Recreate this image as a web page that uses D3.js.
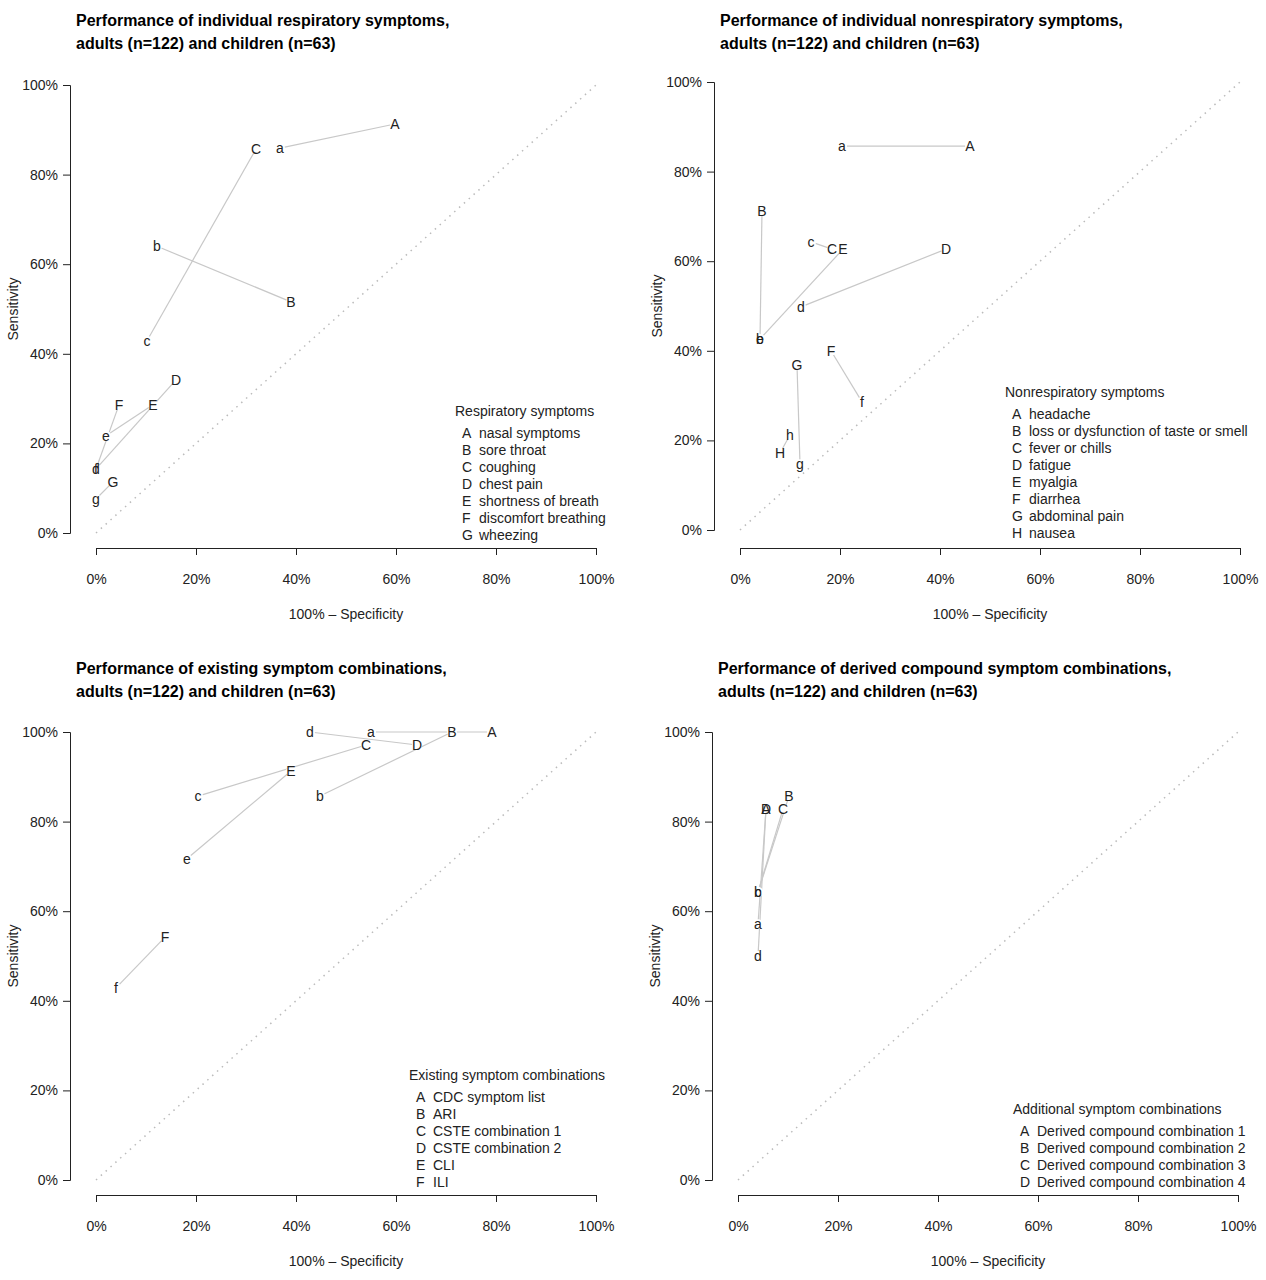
<!DOCTYPE html>
<html><head><meta charset="utf-8">
<script src="https://cdn.jsdelivr.net/npm/d3@7"></script>
<style>body{margin:0;background:#fff}text{font-family:"Liberation Sans",Arial,sans-serif}</style>
</head><body>
<script>
// [label, 100%-specificity, sensitivity]
var respAdults = [["A",59.8,91.3],["B",39,51.6],["C",32,85.7],["D",16,34.2],["E",11.4,28.6],["F",4.6,28.6],["G",3.4,11.4]];
var respKids = [["a",36.8,85.9],["b",12.2,64],["c",10.2,42.9],["d",0,14.3],["e",2,21.7],["f",0,14.3],["g",0,7.6]];
var respNames = ["nasal symptoms","sore throat","coughing","chest pain","shortness of breath","discomfort breathing","wheezing"];

var nonAdults = [["A",46,85.7],["B",4.4,71.2],["C",18.4,62.7],["D",41.2,62.7],["E",20.6,62.7],["F",18.2,40],["G",11.4,36.8],["H",8,17.2]];
var nonKids = [["a",20.4,85.7],["b",4,42.6],["c",14.2,64.3],["d",12.2,49.8],["e",4,42.6],["f",24.4,28.6],["g",12,14.7],["h",10,21.2]];
var nonNames = ["headache","loss or dysfunction of taste or smell","fever or chills","fatigue","myalgia","diarrhea","abdominal  pain","nausea"];

var exAdults = [["A",79.2,100],["B",71.2,100],["C",54,97.1],["D",64.2,97.1],["E",39,91.3],["F",13.8,54.2]];
var exKids = [["a",55,100],["b",44.8,85.7],["c",20.4,85.7],["d",42.8,100],["e",18.2,71.7],["f",4,42.9]];
var exNames = ["CDC symptom list","ARI","CSTE combination 1","CSTE combination 2","CLI","ILI"];

var dcAdults = [["A",5.6,82.8],["B",10.2,85.7],["C",9,82.8],["D",5.6,82.8]];
var dcKids = [["a",4,57.1],["b",4,64.3],["c",4,64.3],["d",4,50]];
var dcNames = ["Derived compound combination 1","Derived compound combination 2","Derived compound combination 3","Derived compound combination 4"];

var ticks = [0,20,40,60,80,100];

var panels = [
  {x0:96,top:85,bot:533,yax:70,xax:548,tx:76,ty:20,title:"Performance of individual respiratory symptoms,",ad:respAdults,kd:respKids,names:respNames,lt:"Respiratory symptoms",lx:455,ly:411},
  {x0:740,top:82,bot:530,yax:714,xax:548,tx:720,ty:20,title:"Performance of individual nonrespiratory symptoms,",ad:nonAdults,kd:nonKids,names:nonNames,lt:"Nonrespiratory symptoms",lx:1005,ly:392},
  {x0:96,top:732,bot:1180,yax:70,xax:1195,tx:76,ty:668,title:"Performance of existing symptom combinations,",ad:exAdults,kd:exKids,names:exNames,lt:"Existing symptom combinations",lx:409,ly:1075},
  {x0:738,top:732,bot:1180,yax:712,xax:1195,tx:718,ty:668,title:"Performance of derived compound symptom combinations,",ad:dcAdults,kd:dcKids,names:dcNames,lt:"Additional symptom combinations",lx:1013,ly:1109}
];

var svg = d3.select("body").append("svg").attr("width",1266).attr("height",1280);

panels.forEach(function(p){
  var g = svg.append("g");
  var x = d3.scaleLinear().domain([0,100]).range([p.x0,p.x0+500]);
  var y = d3.scaleLinear().domain([0,100]).range([p.bot,p.top]);

  g.append("text").attr("x",p.tx).attr("y",p.ty+6).attr("font-size",16).attr("font-weight","bold").text(p.title);
  g.append("text").attr("x",p.tx).attr("y",p.ty+29).attr("font-size",16).attr("font-weight","bold").text("adults (n=122) and children (n=63)");

  var xa = g.append("g").attr("transform","translate(0,"+p.xax+")")
    .call(d3.axisBottom(x).tickValues(ticks).tickSize(7).tickFormat(function(d){return d+"%";}));
  var ya = g.append("g").attr("transform","translate("+p.yax+",0)")
    .call(d3.axisLeft(y).tickValues(ticks).tickSize(7).tickFormat(function(d){return d+"%";}));
  [xa,ya].forEach(function(a){
    a.select(".domain").attr("stroke","#222");
    a.selectAll(".tick line").attr("stroke","#222");
    a.selectAll("text").attr("font-size",14).attr("fill","#222").style("font-family","'Liberation Sans',Arial,sans-serif");
  });
  xa.selectAll("text").attr("dy","1.85em");
  ya.selectAll("text").attr("x",-12);

  g.append("text").attr("x",p.x0+250).attr("y",p.xax+71).attr("text-anchor","middle").attr("font-size",14).attr("fill","#222").text("100% \u2013 Specificity");
  g.append("text").attr("transform","translate("+(p.yax-52)+","+((p.top+p.bot)/2)+") rotate(-90)").attr("text-anchor","middle").attr("font-size",14).attr("fill","#222").text("Sensitivity");

  g.append("line").attr("x1",x(0)).attr("y1",y(0)).attr("x2",x(100)).attr("y2",y(100))
    .attr("stroke","#bbb").attr("stroke-width",1.5).attr("stroke-dasharray","1.5,5");

  g.selectAll(".pair").data(d3.zip(p.ad,p.kd)).enter().append("line")
    .attr("x1",function(d){return x(d[0][1]);}).attr("y1",function(d){return y(d[0][2]);})
    .attr("x2",function(d){return x(d[1][1]);}).attr("y2",function(d){return y(d[1][2]);})
    .attr("stroke","#c8c8c8").attr("stroke-width",1.2);

  var pts = p.ad.concat(p.kd);
  g.selectAll(".bg").data(pts).enter().append("circle")
    .attr("cx",function(d){return x(d[1]);}).attr("cy",function(d){return y(d[2]);}).attr("r",5).attr("fill","#fff");
  g.selectAll(".lab").data(pts).enter().append("text")
    .attr("x",function(d){return x(d[1]);}).attr("y",function(d){return y(d[2]);})
    .attr("dy","0.36em").attr("text-anchor","middle").attr("font-size",14).attr("fill","#222")
    .text(function(d){return d[0];});

  g.append("text").attr("x",p.lx).attr("y",p.ly+5).attr("font-size",14).attr("fill","#222").text(p.lt);
  p.names.forEach(function(n,i){
    var yy = p.ly+27+i*17;
    g.append("text").attr("x",p.lx+7).attr("y",yy).attr("font-size",14).attr("fill","#222").text(p.ad[i][0]);
    g.append("text").attr("x",p.lx+24).attr("y",yy).attr("font-size",14).attr("fill","#222").text(n);
  });
});
</script>
</body></html>
